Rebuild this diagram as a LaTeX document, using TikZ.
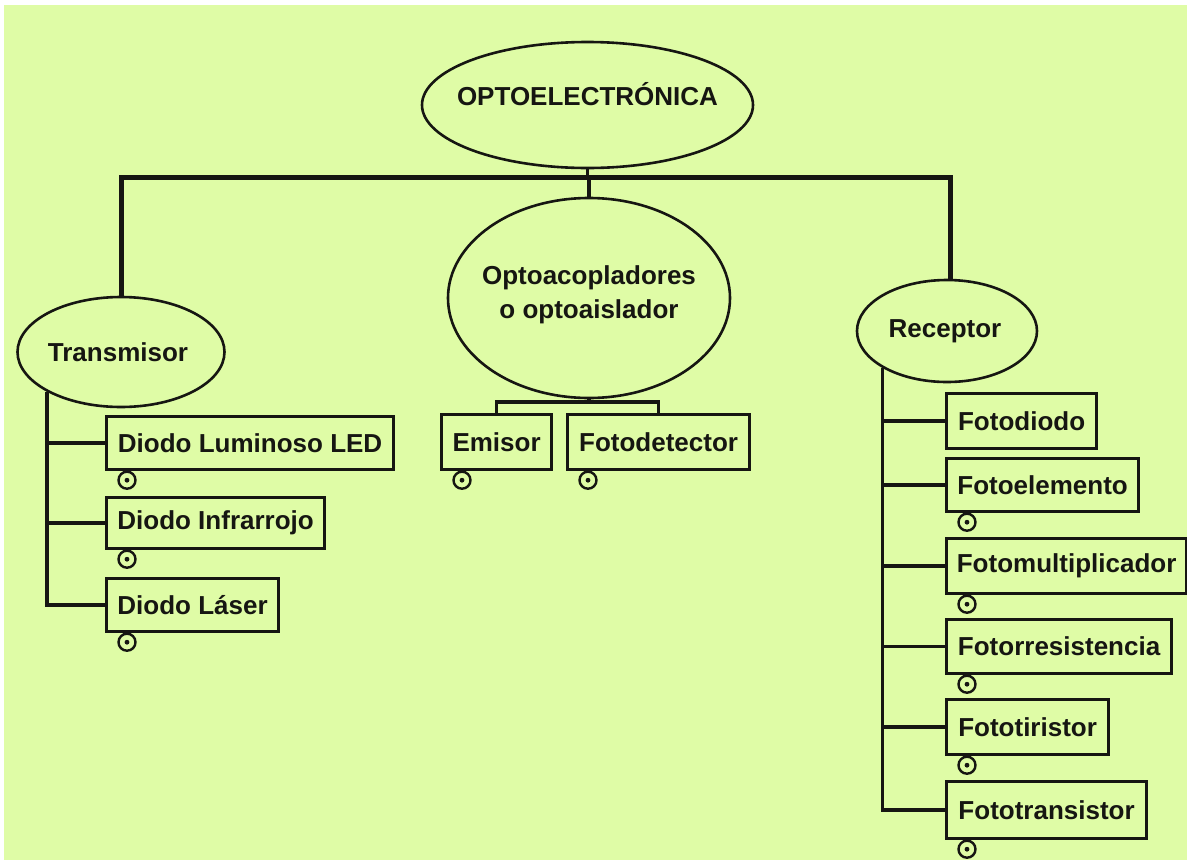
\documentclass[tikz,border=0pt]{standalone}
\usepackage{fontspec}
\setmainfont{Liberation Sans}
\usetikzlibrary{shapes.geometric}
\definecolor{bg}{RGB}{223,252,166}
\definecolor{ink}{RGB}{22,22,18}
\begin{document}
\begin{tikzpicture}[x=1pt,y=-1pt,
  every node/.style={font=\bfseries\fontsize{26}{34}\selectfont, text=ink},
  oval/.style={draw=ink, ellipse, line width=2.6pt, inner sep=0pt, align=center},
  box/.style={draw=ink, rectangle, line width=3.2pt, inner sep=0pt, anchor=north west},
  link/.style={draw=ink, line width=3.4pt},
  bar/.style={draw=ink, line width=5pt},
  dotmark/.style={draw=ink, circle, line width=2.4pt, minimum size=17pt, inner sep=0pt,
    path picture={\fill[ink] (path picture bounding box.center) circle (2.4pt);}}
]
% canvas
\useasboundingbox (0,0) rectangle (1187,860);
\fill[white] (0,0) rectangle (1187,860);
\fill[bg] (4,5) rectangle (1187,860);

% ovals (outline sized independently of the text)
\node[oval, minimum width=331pt, minimum height=126pt] (main) at (587.5,105) {};
\node (mainlbl) at (587.5,94) {OPTOELECTRÓNICA};
\node[oval, minimum width=282pt, minimum height=200pt] (mid) at (589,298) {};
\node[align=center] (midlbl) at (589,295) {Optoacopladores\\o optoaislador};
\node[oval, minimum width=207pt, minimum height=110pt] (tr) at (121,352) {};
\node (trlbl) at (118,352) {Transmisor};
\node[oval, minimum width=180pt, minimum height=102pt] (rc) at (947,331) {};
\node (rclbl) at (945,331) {Receptor};

% transmitter leaves
\node[box, minimum width=287pt, minimum height=53pt] (t1) at (105,415) {Diodo Luminoso LED};
\node[box, minimum width=218pt, minimum height=51pt] (t2) at (105,496) {Diodo Infrarrojo};
\node[box, minimum width=172pt, minimum height=53pt] (t3) at (105,577) {Diodo Láser};

% coupler leaves
\node[box, minimum width=110pt, minimum height=55pt] (em) at (440,413) {Emisor};
\node[box, minimum width=182pt, minimum height=55pt] (fd) at (566,413) {Fotodetector};

% receiver leaves
\node[box, minimum width=150pt, minimum height=55pt] (r1) at (945,392) {Fotodiodo};
\node[box, minimum width=192pt, minimum height=53pt] (r2) at (945,457) {Fotoelemento};
\node[box, minimum width=240pt, minimum height=55pt] (r3) at (945,537) {Fotomultiplicador};
\node[box, minimum width=225pt, minimum height=54pt] (r4) at (945,618) {Fotorresistencia};
\node[box, minimum width=162pt, minimum height=55pt] (r5) at (945,698) {Fototiristor};
\node[box, minimum width=200pt, minimum height=57pt] (r6) at (945,780) {Fototransistor};

% small expand marks under the leaves
\foreach \b in {t1,t2,t3,em,fd,r2,r3,r4,r5,r6}
  \node[dotmark] (m-\b) at ([shift={(22,9)}]\b.south west) {};

% main bar
\coordinate (barY) at (0,177);
\path[bar] (tr.north) -- (tr.north |- barY) -- ([xshift=3pt]rc.north |- barY) -- ([xshift=3pt]rc.north);
\path[link] (main.south) -- (main.south |- barY);
\path[link] (mid.north) -- (mid.north |- barY);

% coupler bracket
\coordinate (brk) at (0,402);
\path[link] (mid.south) -- (mid.south |- brk);
\path[link] (em.north) |- (mid.south |- brk) -| (fd.north);

% transmitter trunk
\path[link] (tr.south west) |- (t3.west);
\path[link] (tr.south west |- t1.west) -- (t1.west);
\path[link] (tr.south west |- t2.west) -- (t2.west);

% receiver trunk
\path[link] (rc.south west) |- (r6.west);
\foreach \b in {r1,r2,r3,r4,r5}
  \path[link] (rc.south west |- \b.west) -- (\b.west);
\end{tikzpicture}
\end{document}
